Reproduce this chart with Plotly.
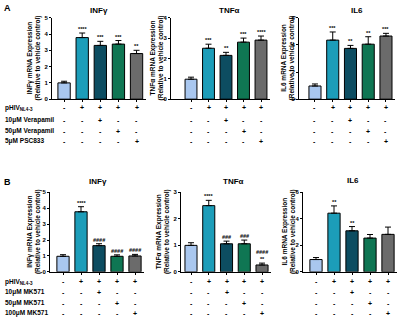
import plotly.graph_objects as go

W, H = 400, 320

groups = ["Vehicle", "pHIV", "pHIV+D1", "pHIV+D2", "pHIV+D3"]
colors = ["#a9c7ef", "#1c9db9", "#0d4d61", "#0f7653", "#6b6b6b"]

# Panel A (Verapamil / PSC833)
a_ifng = [1.0, 3.78, 3.3, 3.38, 2.8]
a_ifng_err = [0.1, 0.28, 0.25, 0.22, 0.2]
a_ifng_sig = ["", "****", "***", "***", "**"]
a_tnfa = [0.98, 2.5, 2.15, 2.8, 2.9]
a_tnfa_err = [0.1, 0.2, 0.15, 0.2, 0.2]
a_tnfa_sig = ["", "***", "**", "***", "****"]
a_il6 = [0.97, 4.35, 3.74, 4.05, 4.65]
a_il6_err = [0.15, 0.6, 0.22, 0.55, 0.2]
a_il6_sig = ["", "***", "**", "**", "***"]

# Panel B (MK571)
b_ifng = [0.98, 3.78, 1.65, 0.98, 1.0]
b_ifng_err = [0.1, 0.32, 0.12, 0.09, 0.1]
b_ifng_sig = ["", "****", "####", "####", "####"]
b_tnfa = [1.0, 2.5, 1.06, 1.06, 0.26]
b_tnfa_err = [0.1, 0.2, 0.1, 0.14, 0.07]
b_tnfa_sig = ["", "****", "###", "###", "####<br>**"]
b_il6 = [0.93, 4.43, 3.1, 2.55, 2.83]
b_il6_err = [0.15, 0.55, 0.32, 0.27, 0.55]
b_il6_sig = ["", "**", "**", "", ""]

titles = ["INFγ", "TNFα", "IL6"]
ytitles = ["INFγ mRNA Expression", "TNFα mRNA Expression", "IL6 mRNA Expression"]
ytitle2 = "(Relative to vehicle control)"

a_rows = ["pHIV<sub>NL4-3</sub>", "10μM Verapamil", "50μM Verapamil", "5μM PSC833"]
a_matrix = [["-", "+", "+", "+", "+"],
            ["-", "-", "+", "-", "-"],
            ["-", "-", "-", "+", "-"],
            ["-", "-", "-", "-", "+"]]
b_rows = ["pHIV<sub>NL4-3</sub>", "10μM MK571", "50μM MK571", "100μM MK571"]
b_matrix = [["-", "+", "+", "+", "+"],
            ["-", "-", "+", "-", "-"],
            ["-", "-", "-", "+", "-"],
            ["-", "-", "-", "-", "+"]]

FONT = "Liberation Sans"

# layout geometry (pixels)
panels = [
    dict(v=a_ifng, e=a_ifng_err, s=a_ifng_sig, x0=52, xr0=-0.667, x1=145.6, yt=15, yb=98, ym=5, dt=1, t=0, tx=99, ty=8, ytx=34),
    dict(v=a_tnfa, e=a_tnfa_err, s=a_tnfa_sig, x0=171, xr0=-1.143, x1=269.75, yt=15, yb=98, ym=4, dt=1, t=1, tx=230, ty=8, ytx=157),
    dict(v=a_il6, e=a_il6_err, s=a_il6_sig, x0=299, xr0=-0.9, x1=394.85, yt=15, yb=98, ym=6, dt=2, t=2, tx=357, ty=8, ytx=288),
    dict(v=b_ifng, e=b_ifng_err, s=b_ifng_sig, x0=50, xr0=-0.722, x1=144, yt=193, yb=274, ym=5, dt=1, t=0, tx=98, ty=182, ytx=34),
    dict(v=b_tnfa, e=b_tnfa_err, s=b_tnfa_sig, x0=181, xr0=-0.563, x1=270.9, yt=193, yb=274, ym=3, dt=1, t=1, tx=233, ty=182, ytx=163),
    dict(v=b_il6, e=b_il6_err, s=b_il6_sig, x0=303, xr0=-0.722, x1=397, yt=193, yb=274, ym=6, dt=2, t=2, tx=353, ty=181, ytx=289),
]

def px(x):
    return x / W

def py(y):
    return 1 - y / H

fig = go.Figure()
annotations = []
layout = {}

for i, p in enumerate(panels, start=1):
    xa = "x" if i == 1 else f"x{i}"
    ya = "y" if i == 1 else f"y{i}"
    fig.add_trace(go.Bar(
        x=groups, y=p["v"], xaxis=xa, yaxis=ya, width=0.68,
        marker=dict(color=colors, line=dict(color="black", width=1)),
        error_y=dict(type="data", array=p["e"], arrayminus=[0] * 5, symmetric=False,
                     color="black", thickness=1, width=3),
        showlegend=False, hoverinfo="skip",
    ))
    layout[f"xaxis{i if i > 1 else ''}"] = dict(
        domain=[px(p["x0"]), px(p["x1"])], anchor=ya, type="category",
        range=[p["xr0"], 4.5], showticklabels=False, ticks="outside", ticklen=2,
        tickcolor="black", showline=True, linecolor="black", linewidth=1,
        showgrid=False, zeroline=False, fixedrange=True,
    )
    layout[f"yaxis{i if i > 1 else ''}"] = dict(
        domain=[py(p["yb"]), py(p["yt"])], anchor=xa, range=[0, p["ym"]],
        dtick=p["dt"], tick0=0, ticks="outside", ticklen=2, tickcolor="black",
        showline=True, linecolor="black", linewidth=1, showgrid=False,
        zeroline=False, tickfont=dict(family=FONT, size=6, color="black", weight="bold"),
        fixedrange=True,
    )
    for j, g in enumerate(groups):
        if p["s"][j]:
            annotations.append(dict(
                xref=xa, yref=ya, x=g, y=p["v"][j] + p["e"][j], text=p["s"][j],
                showarrow=False, yanchor="bottom", yshift=-1,
                font=dict(family=FONT, size=5.5, color="black", weight="bold"),
            ))
    annotations.append(dict(
        xref="paper", yref="paper", x=px(p["tx"]), y=py(p["ty"]), text=titles[p["t"]],
        showarrow=False, xanchor="center", yanchor="middle",
        font=dict(family=FONT, size=8, color="black", weight="bold"),
    ))
    annotations.append(dict(
        xref="paper", yref="paper", x=px(p["ytx"]), y=py((p["yt"] + p["yb"]) / 2),
        text=ytitles[p["t"]] + "<br>" + ytitle2, textangle=-90,
        showarrow=False, xanchor="center", yanchor="middle",
        font=dict(family=FONT, size=6.5, color="black", weight="bold"),
    ))

tables = [
    (a_rows, a_matrix, [107, 119.5, 130.5, 141], [1, 2, 3]),
    (b_rows, b_matrix, [284, 295, 306, 316], [4, 5, 6]),
]
for rows, matrix, ys, pids in tables:
    for r, (lab, yy) in enumerate(zip(rows, ys)):
        annotations.append(dict(
            xref="paper", yref="paper", x=px(3), y=py(yy), text=lab,
            showarrow=False, xanchor="left", yanchor="middle",
            font=dict(family=FONT, size=6.5, color="black", weight="bold"),
        ))
        for pid in pids:
            xa = "x" if pid == 1 else f"x{pid}"
            for j, g in enumerate(groups):
                annotations.append(dict(
                    xref=xa, yref="paper", x=g, y=py(yy), text=matrix[r][j],
                    showarrow=False, xanchor="center", yanchor="middle",
                    font=dict(family=FONT, size=7, color="black", weight="bold"),
                ))

for letter, yy in [("A", 5), ("B", 182)]:
    annotations.append(dict(
        xref="paper", yref="paper", x=px(2), y=py(yy), text=letter,
        showarrow=False, xanchor="left", yanchor="middle",
        font=dict(family=FONT, size=9, color="black", weight="bold"),
    ))

fig.update_layout(
    width=W, height=H, margin=dict(l=0, r=0, t=0, b=0),
    paper_bgcolor="white", plot_bgcolor="white",
    annotations=annotations, bargap=0.3, **layout,
)

fig.write_html(
    "out.html", config={"displayModeBar": False},
    post_script="document.body.style.margin='0';document.body.style.padding='0';document.body.style.overflow='hidden';",
)
